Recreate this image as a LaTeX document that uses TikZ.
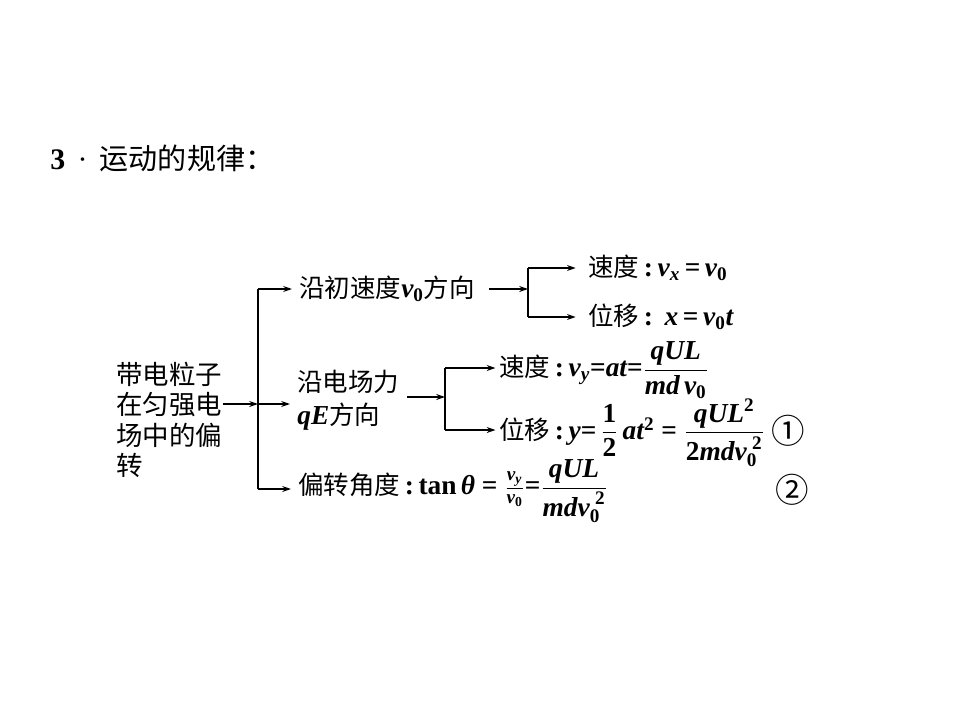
\documentclass[tikz,border=0pt]{standalone}
\usepackage{fontspec}
\usepackage{amsmath}
\setmainfont{Liberation Serif}
\newfontfamily\cjk[Scale=0.93]{Noto Sans CJK SC}
\usetikzlibrary{arrows.meta}
\newcommand{\bi}[1]{\text{\rmfamily\bfseries\itshape #1}}
\newcommand{\bn}[1]{\text{\rmfamily\bfseries #1}}
\newcommand{\cl}{{\rmfamily\bfseries\,:\,}}
\begin{document}
\begin{tikzpicture}[x=0.02cm,y=-0.02cm,
  txt/.style={anchor=west,inner sep=0pt,font=\fontsize{15.6}{18.8}\selectfont\cjk},
  circ/.style={anchor=west,inner sep=0pt,font=\fontsize{20.5}{22}\selectfont\cjk},
  arr/.style={line width=1.1pt,-{Stealth[length=5pt,width=3.4pt]}},
  ln/.style={line width=1.1pt}]
\fill[white] (0,0) rectangle (960,720);
\useasboundingbox (0,0) rectangle (960,720);
% title
\node[anchor=west,inner sep=0pt,font=\fontsize{17}{20}\selectfont] (title) at (50,158)
  {\textbf{3}\hspace{7pt}·\hspace{7pt}{\cjk\fontsize{17.8}{22}\selectfont 运动的规律：}};
% main node
\node[txt,align=left,font=\fontsize{16.2}{17.2}\selectfont\cjk] (main) at (116,420) {带电粒子\\在匀强电\\场中的偏\\转};
% first-level
\node[txt] (a) at (299,289) {沿初速度$\bi{v}_{\bn{0}}$方向};
\node[txt,align=left] (b) at (297,400) {沿电场力\\$\bi{qE}$方向};
\node[txt] (c) at (298,491) {偏转角度\cl$\bn{tan}\,\bi{θ}\bn{ = }\frac{\bi{v}_{\bi{y}}}{\bi{v}_{\bn{0}}}\bn{=}\dfrac{\bi{qUL}}{\bi{mdv}_{\bn{0}}^{\;\bn{2}}}$};
% second-level
\node[txt] (a1) at (588,268) {速度\cl$\bi{v}_{\bi{x}}\bn{\,=\,}\bi{v}_{\bn{0}}$};
\node[txt] (a2) at (588,317) {位移\cl$\;\bi{x}\bn{\,=\,}\bi{v}_{\bn{0}}\bi{t}$};
\node[txt] (b1) at (499,370) {速度\cl$\bi{v}_{\bi{y}}\bn{=}\bi{at}\bn{=}\dfrac{\bi{qUL}}{\bi{md}\,\bi{v}_{\bn{0}}}$};
\node[txt] (b2) at (499,433) {位移\cl$\bi{y}\bn{=}\,\dfrac{\bn{1}}{\bn{2}}\,\bi{at}^{\bn{2}}\bn{ = }\dfrac{\bi{qUL}^{\bn{2}}}{\bn{2}\bi{mdv}_{\bn{0}}^{\;\bn{2}}}$};
\node[circ] (c1) at (771,431) {①};
\node[circ] (c2) at (775,490) {②};
% spine 1
\coordinate (s) at (258,404);
\coordinate (sT) at (258,289);
\coordinate (sB) at (258,489);
\draw[ln] (sT) -- (sB);
\draw[arr] (main.east |- s) -- (s);
\draw[arr] (sT) -- ([xshift=-4pt]a.west);
\draw[arr] (s) -- ([xshift=-4pt]b.west |- s);
\draw[arr] (sB) -- ([xshift=-4pt]c.west |- sB);
% spine 2
\coordinate (k) at (528,289);
\coordinate (kT) at (528,268);
\coordinate (kB) at (528,317);
\draw[ln] (kT) -- (kB);
\draw[arr] ([xshift=8pt]a.east |- k) -- (k);
\draw[arr] (kT) -- ([xshift=-7pt]a1.west |- kT);
\draw[arr] (kB) -- ([xshift=-7pt]a2.west |- kB);
% spine 3
\coordinate (m) at (445,397);
\coordinate (mT) at (445,368);
\coordinate (mB) at (445,430);
\draw[ln] (mT) -- (mB);
\draw[arr] (407,397) -- (m);
\draw[arr] (mT) -- ([xshift=-2pt]b1.west |- mT);
\draw[arr] (mB) -- ([xshift=-2pt]b2.west |- mB);
\end{tikzpicture}
\end{document}
